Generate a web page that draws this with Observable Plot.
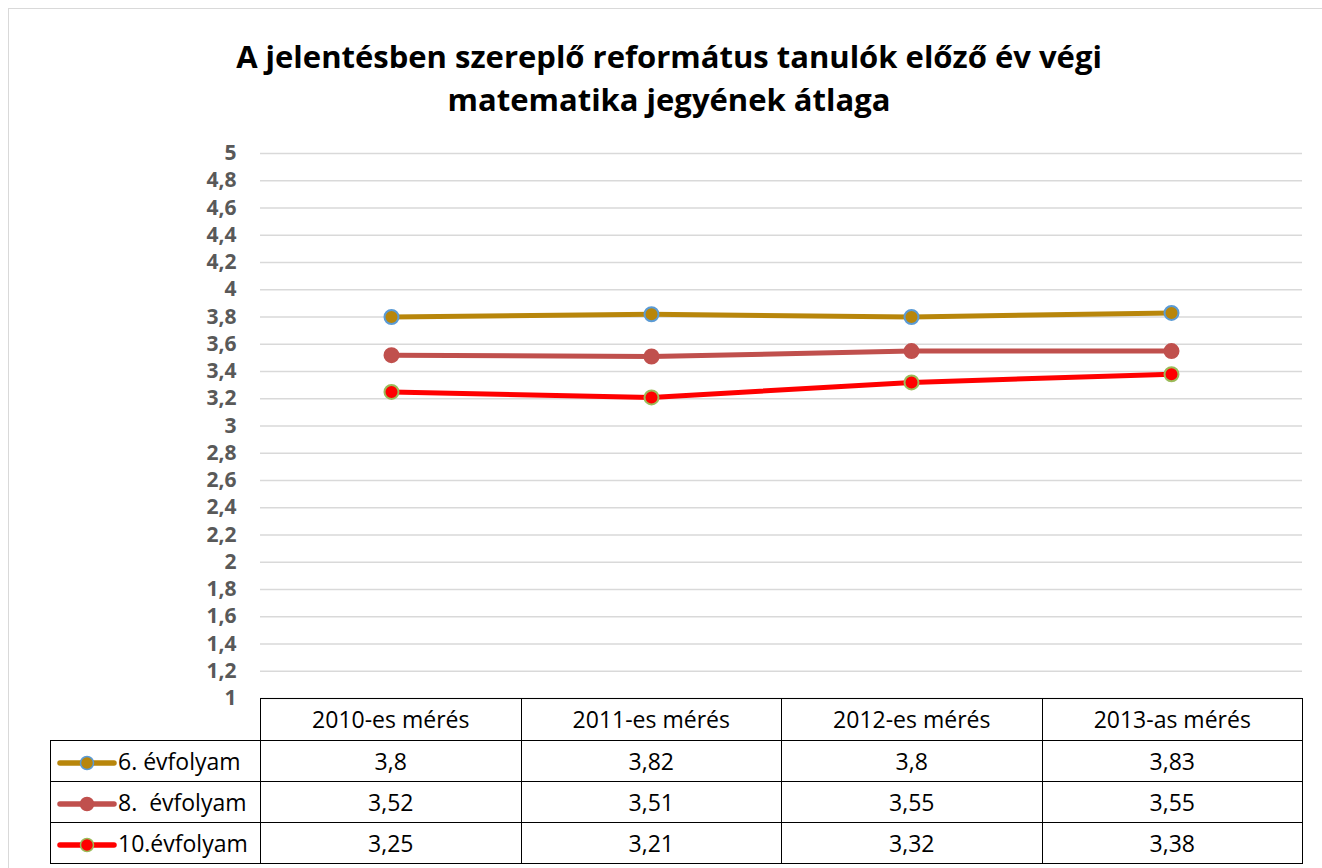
<!DOCTYPE html>
<html>
<head>
<meta charset="utf-8">
<script src="https://cdn.jsdelivr.net/npm/d3@7"></script>
<script src="https://cdn.jsdelivr.net/npm/@observablehq/plot@0.6"></script>
<style>
  html, body { margin: 0; padding: 0; background: #fff; }
  body { width: 1322px; height: 868px; position: relative; overflow: hidden; font-family: "Open Sans", Lato, sans-serif; }
  #frame { position: absolute; left: 8px; top: 8px; width: 1330px; height: 900px; border: 1.5px solid #d9d9d9; box-sizing: border-box; }
  #title { position: absolute; left: 8px; top: 35px; width: 1322px; text-align: center; font-weight: bold; font-size: 31px; line-height: 43px; color: #000; }
  #chart { position: absolute; left: 0; top: 130px; }
  #chart svg g[aria-label="y-axis tick label"] text { font-size: 21px; font-weight: bold; fill: #595959; font-family: "Open Sans", sans-serif; }
  #tbl { position: absolute; left: 50px; top: 698px; border-collapse: collapse; table-layout: fixed; font-size: 23px; color: #000; z-index: 2; }
  #tbl td { border: 1.5px solid #000; text-align: center; padding: 0; height: 40px; line-height: 26px; white-space: nowrap; font-size: 23px; }
  #tbl td.corner { border-top: none; border-left: none; }
  #tbl td.lab { text-align: left; padding-left: 6px; }
  #tbl td.lab svg { vertical-align: middle; margin-right: 1px; }
</style>
</head>
<body>
<div id="frame"></div>
<div id="title">A jelentésben szereplő református tanulók előző év végi<br>matematika jegyének átlaga</div>
<div id="chart"></div>
<table id="tbl"></table>
<script>
const categories = ["2010-es mérés", "2011-es mérés", "2012-es mérés", "2013-as mérés"];
const seriesNames = ["6. évfolyam", "8.  évfolyam", "10.évfolyam"];
const grade6 = [3.8, 3.82, 3.8, 3.83];
const grade8 = [3.52, 3.51, 3.55, 3.55];
const grade10 = [3.25, 3.21, 3.32, 3.38];
const yTicks = [1, 1.2, 1.4, 1.6, 1.8, 2, 2.2, 2.4, 2.6, 2.8, 3, 3.2, 3.4, 3.6, 3.8, 4, 4.2, 4.4, 4.6, 4.8, 5];

const styles = [
  {line: "#B8860B", fill: "#B8860B", stroke: "#5B9BD5"},
  {line: "#C0504D", fill: "#C0504D", stroke: "#C0504D"},
  {line: "#FF0000", fill: "#FF0000", stroke: "#9BBB59"}
];
const allSeries = [grade6, grade8, grade10];
const data = [];
allSeries.forEach((vals, si) => vals.forEach((v, i) => data.push({series: seriesNames[si], cat: categories[i], value: v, si})));

const fmt = d => String(d).replace(".", ",");

const marks = [
  Plot.gridY(yTicks, {stroke: "#d9d9d9", strokeOpacity: 1, strokeWidth: 1.5})
];
styles.forEach((s, si) => {
  const d = data.filter(r => r.si === si);
  marks.push(Plot.line(d, {x: "cat", y: "value", stroke: s.line, strokeWidth: 5, strokeLinecap: "round"}));
  marks.push(Plot.dot(d, {x: "cat", y: "value", r: 7, fill: s.fill, stroke: s.stroke, strokeWidth: 2}));
});

const plot = Plot.plot({
  width: 1322,
  height: 578,
  marginTop: 23,
  marginBottom: 10,
  marginLeft: 260,
  marginRight: 20,
  style: {background: "transparent", overflow: "visible"},
  x: {type: "point", domain: categories, padding: 0.5, axis: null},
  y: {domain: [1, 5], label: null},
  marks: [
    ...marks,
    Plot.axisY(yTicks, {tickSize: 0, tickPadding: 24, tickFormat: fmt, label: null})
  ]
});
document.getElementById("chart").appendChild(plot);

// data table
const tbl = document.getElementById("tbl");
const colg = document.createElement("colgroup");
[210, 260.5, 260.5, 260.5, 260.5].forEach(w => { const c = document.createElement("col"); c.style.width = w + "px"; colg.appendChild(c); });
tbl.appendChild(colg);
const hr = document.createElement("tr");
const corner = document.createElement("td"); corner.className = "corner"; hr.appendChild(corner);
categories.forEach(c => { const td = document.createElement("td"); td.textContent = c; hr.appendChild(td); });
hr.children[0].style.height = "41px";
tbl.appendChild(hr);
allSeries.forEach((vals, si) => {
  const tr = document.createElement("tr");
  const lab = document.createElement("td"); lab.className = "lab";
  const s = styles[si];
  lab.innerHTML = `<svg width="60" height="16" viewBox="0 0 60 16"><line x1="3" y1="8" x2="57" y2="8" stroke="${s.line}" stroke-width="5.5" stroke-linecap="round"/><circle cx="30" cy="8" r="6.5" fill="${s.fill}" stroke="${s.stroke}" stroke-width="1.5"/></svg>`;
  lab.appendChild(document.createTextNode(seriesNames[si]));
  lab.style.whiteSpace = "pre";
  tr.appendChild(lab);
  vals.forEach(v => { const td = document.createElement("td"); td.textContent = fmt(v); tr.appendChild(td); });
  tbl.appendChild(tr);
});
</script>
</body>
</html>
